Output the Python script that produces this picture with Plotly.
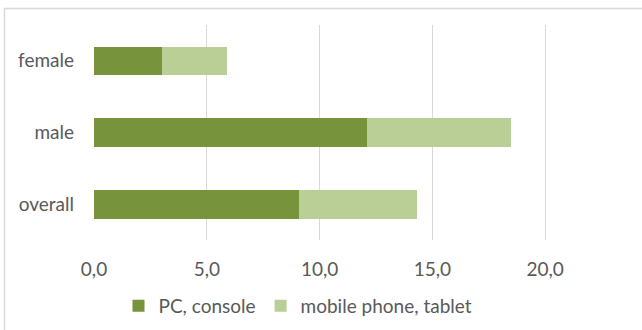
import plotly.graph_objects as go

categories = ["overall", "male", "female"]
pc_console = [9.1, 12.1, 3.0]
mobile_tablet = [5.2, 6.4, 2.9]
tick_vals = [0, 5, 10, 15, 20]

W, H = 642, 330
L, R, T, B = 94, 0, 25, 90
pw, ph = W - L - R, H - T - B
px_per_unit = 22.56
xmax = pw / px_per_unit

font = "Lato, 'Open Sans', sans-serif"
grey = "#595959"
fs = 19

fig = go.Figure()
fig.add_trace(go.Bar(y=categories, x=pc_console, orientation="h", name="PC, console",
                     marker=dict(color="#77933C", line=dict(width=0))))
fig.add_trace(go.Bar(y=categories, x=mobile_tablet, orientation="h", name="mobile phone, tablet",
                     marker=dict(color="#B9CF96", line=dict(width=0))))

def px_x(p):
    return (p - L) / pw

def px_y(p):
    return (H - B - p) / ph

border = "#D9D9D9"
fig.add_shape(type="line", xref="paper", yref="paper", x0=px_x(4), x1=px_x(W + 5),
              y0=px_y(8.5), y1=px_y(8.5), line=dict(color=border, width=1.5))
fig.add_shape(type="line", xref="paper", yref="paper", x0=px_x(4.5), x1=px_x(4.5),
              y0=px_y(8.5), y1=px_y(H + 5), line=dict(color=border, width=1.5))

fig.update_layout(
    width=W, height=H, autosize=False,
    margin=dict(l=L, r=R, t=T, b=B),
    barmode="stack", bargap=0.6,
    separators=",.",
    plot_bgcolor="white", paper_bgcolor="white",
    font=dict(family=font, size=fs, color=grey),
    showlegend=True,
    legend=dict(orientation="h", xanchor="center", yanchor="middle",
                x=px_x(298), y=px_y(306), font=dict(size=fs, color=grey),
                itemwidth=30, traceorder="normal", bgcolor="rgba(0,0,0,0)"),
    xaxis=dict(range=[0, xmax], tickvals=tick_vals, tickformat=".1f",
               showgrid=True, gridcolor="#D9D9D9", gridwidth=1.3,
               zeroline=False, showline=False, ticks="", ticklabelstandoff=16,
               tickfont=dict(size=fs, color=grey), fixedrange=True),
    yaxis=dict(showgrid=False, zeroline=False, showline=False, ticks="",
               ticklabelstandoff=19, tickfont=dict(size=fs, color=grey),
               categoryorder="array", categoryarray=categories),
)

fig.write_html("out.html")
